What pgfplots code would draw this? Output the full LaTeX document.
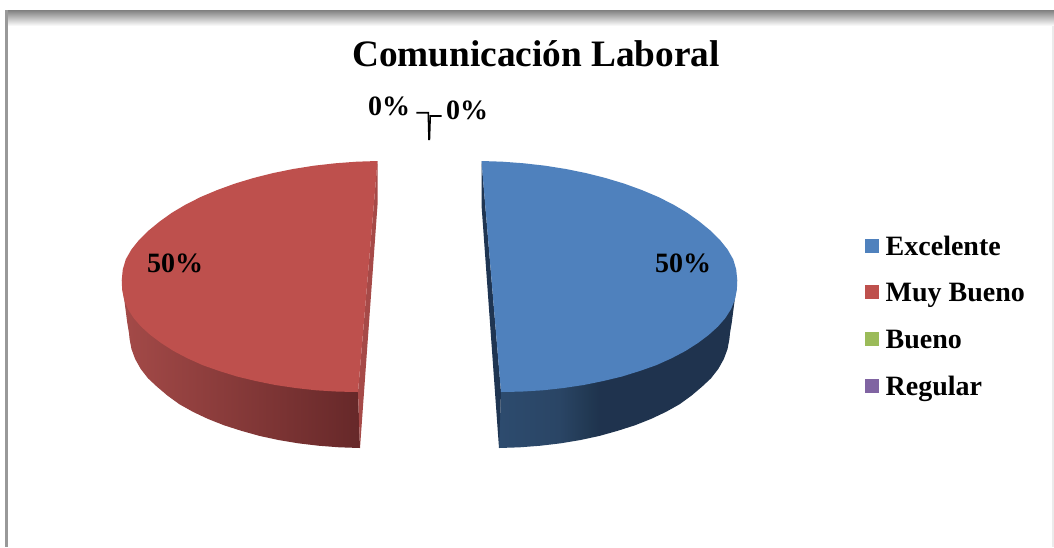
\documentclass[border=0pt]{standalone}
\usepackage{fontspec}
\setmainfont{Liberation Serif}
\usepackage{pgfplots}
\usepackage{pgfplotstable}
\pgfplotsset{compat=1.18}
\definecolor{cblue}{HTML}{4F81BD}
\definecolor{cred}{HTML}{BE504D}
\definecolor{cgreen}{HTML}{9BBB59}
\definecolor{cpurple}{HTML}{8064A2}
\definecolor{stripblue}{HTML}{1F3552}
\definecolor{stripred}{HTML}{A64A48}
\definecolor{sidea}{HTML}{2D4B6E}
\definecolor{sideb}{HTML}{2A4565}
\definecolor{sidec}{HTML}{213852}
\definecolor{sided}{HTML}{1F334E}
\definecolor{redleft}{HTML}{A44A48}
\definecolor{redright}{HTML}{662829}
\pgfdeclarehorizontalshading{blueside}{100bp}{color(0bp)=(sidea); color(25bp)=(sidea); color(37.6bp)=(sideb); color(44bp)=(sidec); color(46bp)=(sided); color(100bp)=(sided)}
\pgfplotstableread{
x y
481.5 161.0
502.5 161.7
523.9 163.3
545.1 165.7
565.9 169.0
586.1 173.1
605.5 178.0
624.1 183.6
641.7 190.0
658.1 196.9
673.2 204.5
687.0 212.7
699.2 221.4
710.2 230.4
719.8 239.8
727.6 249.5
733.2 259.3
736.2 269.4
737.2 279.5
736.9 289.6
734.9 299.6
731.1 309.0
725.4 318.0
717.9 326.6
708.7 334.9
697.9 343.0
685.4 351.0
671.5 358.3
656.2 365.2
639.7 371.0
622.0 376.5
603.3 381.0
583.7 385.0
563.5 388.0
542.7 390.3
521.4 391.6
501.0 392.0
}\toptable
\pgfplotstableread{
x y
737.2 279.5
736.0 290.0
731.7 323.0
730.0 333.0
729.4 339.1
727.5 349.1
723.8 359.1
718.3 368.9
711.0 378.3
702.1 386.6
691.5 395.6
679.5 404.3
665.9 411.9
651.1 418.9
634.9 425.3
617.7 430.8
599.5 435.9
580.5 440.0
560.8 443.3
540.6 445.7
519.9 447.3
499.0 448.0
501.0 392.0
600.0 300.0
}\sidetable
\pgfplotstableread{
x y
481.5 161.0
501.0 392.0
499.0 448.0
481.5 205.0
}\striptable
\begin{document}
\begin{tikzpicture}
\begin{axis}[
  scale only axis, width=1054pt, height=547pt,
  xmin=0, xmax=1054, ymin=0, ymax=547, y dir=reverse,
  hide axis, clip=true, no markers,
]
% page background and frame
\addplot[fill=white, draw=none] coordinates {(0,0)(1054,0)(1054,547)(0,547)};
\addplot[top color=black!50, bottom color=white, draw=none] coordinates {(5,10)(1054,10)(1054,26)(5,26)};
\addplot[fill=black!40, draw=none] coordinates {(5,10)(7.5,10)(7.5,547)(5,547)};
\addplot[fill=black!8, draw=none] coordinates {(1052,26)(1054,26)(1054,547)(1052,547)};
% sides
\addplot[shading=blueside, draw=none] table[x=x,y=y] {\sidetable};
\addplot[left color=redleft, right color=redright, draw=none] table[x expr=859-\thisrow{x}, y=y] {\sidetable};
% inner faces
\addplot[fill=stripblue, draw=none] table[x=x,y=y] {\striptable};
\addplot[fill=stripred, draw=none] table[x expr=859-\thisrow{x}, y=y] {\striptable};
% tops
\addplot[fill=cblue, draw=none] table[x=x,y=y] {\toptable};
\addplot[fill=cred, draw=none] table[x expr=859-\thisrow{x}, y=y] {\toptable};
% leader lines
\addplot[black, line width=1.6pt] coordinates {(416.3,112.7)(428.3,112.7)(429,140)};
\addplot[black, line width=1.6pt] coordinates {(441.7,116)(430.2,116)(429.4,140)};
% legend keys
\addplot[fill=cblue, draw=none] coordinates {(865,239)(879,239)(879,253)(865,253)};
\addplot[fill=cred, draw=none] coordinates {(865,285)(879,285)(879,299)(865,299)};
\addplot[fill=cgreen, draw=none] coordinates {(865,332)(879,332)(879,346)(865,346)};
\addplot[fill=cpurple, draw=none] coordinates {(865,379)(879,379)(879,393)(865,393)};
% text
\node[anchor=base, inner sep=0pt] at (axis cs:536,66) {\fontsize{37.3}{40}\selectfont\bfseries Comunicación Laboral};
\def\lab{\fontsize{28}{30}\selectfont\bfseries}
\node[anchor=base west, inner sep=0pt] at (axis cs:368,115) {\lab 0\%};
\node[anchor=base west, inner sep=0pt] at (axis cs:446,119) {\lab 0\%};
\node[anchor=base west, inner sep=0pt] at (axis cs:147,272) {\lab 50\%};
\node[anchor=base west, inner sep=0pt] at (axis cs:655,272) {\lab 50\%};
\node[anchor=base west, inner sep=0pt] at (axis cs:885.5,255) {\lab Excelente};
\node[anchor=base west, inner sep=0pt] at (axis cs:885.5,301.5) {\lab Muy Bueno};
\node[anchor=base west, inner sep=0pt] at (axis cs:885.5,348) {\lab Bueno};
\node[anchor=base west, inner sep=0pt] at (axis cs:885.5,395) {\lab Regular};
\end{axis}
\end{tikzpicture}
\end{document}
